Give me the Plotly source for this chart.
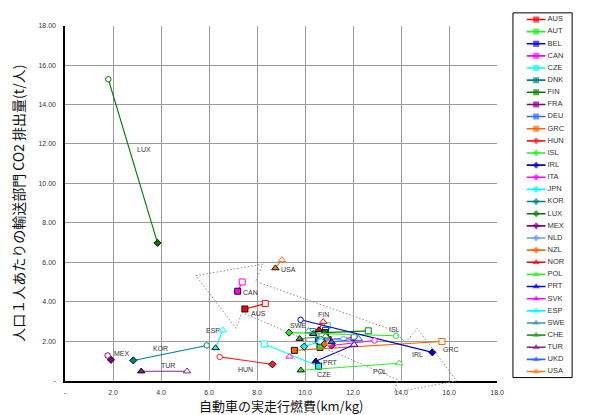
import plotly.graph_objects as go

# --- data -------------------------------------------------------------------
countries = ["AUS", "AUT", "BEL", "CAN", "CZE", "DNK", "FIN", "FRA", "DEU", "GRC",
             "HUN", "ISL", "IRL", "ITA", "JPN", "KOR", "LUX", "MEX", "NLD", "NZL",
             "NOR", "POL", "PRT", "SVK", "ESP", "SWE", "CHE", "TUR", "UKD", "USA"]

# fuel economy (km/kg) and transport CO2 per capita (t) – first point (filled marker)
fuel_a = [7.49, 10.62, 10.60, 7.19, 10.56, 10.85, 10.82, 10.96, 10.55, 9.55,
          8.64, 9.33, 15.30, 11.10, 9.96, 2.84, 3.85, 1.91, 10.92, 10.80,
          10.57, 9.82, 10.44, None, 6.27, 10.34, 9.77, 3.17, 11.10, 8.76]
co2_a = [3.63, 1.68, 2.03, 4.53, 0.73, 2.30, 2.43, 2.07, 2.05, 1.53,
         0.82, 2.43, 1.43, 1.78, 1.72, 1.02, 6.98, 1.05, 2.10, 1.85,
         2.57, 0.52, 0.98, None, 1.65, 2.37, 2.12, 0.47, 1.95, 5.70]

# second point (open marker)
fuel_b = [8.34, 10.92, 10.85, 7.38, 8.30, 10.30, 12.63, 12.04, 10.70, 15.70,
          6.44, 13.79, 9.81, 12.89, 10.64, 5.90, 1.80, 1.77, 11.60, 11.00,
          10.75, 13.92, 12.04, 9.35, 6.57, 10.14, 10.85, 5.08, 12.23, 9.03]
co2_b = [3.90, 2.78, 2.55, 5.00, 1.85, 2.48, 2.52, 2.18, 2.25, 1.98,
         1.20, 2.27, 3.08, 2.03, 1.98, 1.78, 15.28, 1.27, 2.10, 1.90,
         2.98, 0.88, 1.82, 1.22, 2.55, 2.52, 2.25, 0.47, 2.12, 6.12]

x_ticks = [0, 2, 4, 6, 8, 10, 12, 14, 16, 18]
x_tick_text = ["-", "2.0", "4.0", "6.0", "8.0", "10.0", "12.0", "14.0", "16.0", "18.0"]
y_ticks = [0, 2, 4, 6, 8, 10, 12, 14, 16, 18]
y_tick_text = ["-", "2.00", "4.00", "6.00", "8.00", "10.00", "12.00", "14.00", "16.00", "18.00"]

# hand-drawn dotted outline around the main cluster (data units)
outline_x = [5.45, 8.23, 7.94, 13.50, 14.20, 14.67, 16.31, 13.72, 13.85, 7.37, 7.12]
outline_y = [5.32, 5.90, 5.03, 2.62, 1.95, 2.65, -0.02, -0.60, 0.05, 3.45, 2.65]

# --- styles -----------------------------------------------------------------
colors = ["#FF0000", "#22EE22", "#0000FF", "#FF00FF", "#00FFFF", "#008080", "#008000", "#800080", "#3366FF", "#FF6600",
          "#FF2222", "#22EE22", "#0000CC", "#FF00FF", "#00FFFF", "#008080", "#007700", "#800080", "#6699FF", "#FF6600",
          "#FF0000", "#33EE33", "#0000FF", "#FF00FF", "#00FFFF", "#339999", "#339933", "#882288", "#3366FF", "#FF7722"]
sym_filled = ["square"] * 10 + ["diamond"] * 10 + ["triangle-up"] * 10
sym_open = ["square"] * 10 + ["circle"] * 10 + ["triangle-up"] * 10
sym_size = [6] * 10 + [5.5] * 10 + [6.5] * 10

label_pos = {
    "LUX": (3.27, 11.73), "MEX": (2.38, 1.38), "KOR": (3.98, 1.60), "TUR": (4.29, 0.75),
    "ESP": (6.16, 2.55), "HUN": (7.50, 0.57), "CAN": (7.73, 4.48), "AUS": (8.07, 3.38),
    "USA": (9.30, 5.63), "FIN": (10.78, 3.33), "SWE": (9.71, 2.77), "ISL": (13.74, 2.57),
    "GRC": (16.08, 1.58), "IRL": (14.67, 1.30), "PRT": (11.05, 0.93), "CZE": (10.77, 0.32),
    "POL": (13.13, 0.48),
}

W, H = 589, 415
plot_l, plot_r, plot_t, plot_b = 65, 503, 22, 383
leg_l, leg_r, leg_t, leg_b = 519, 579, 9, 380

x_dom = [plot_l / W, plot_r / W]
y_dom = [(H - plot_b) / H, (H - plot_t) / H]

fig = go.Figure()

# one trace per country: connecting line plus its two markers
for i, c in enumerate(countries):
    col = colors[i]
    fig.add_trace(go.Scatter(
        x=[fuel_a[i], fuel_b[i]], y=[co2_a[i], co2_b[i]],
        mode="lines+markers",
        line=dict(color=col, width=1.1),
        marker=dict(symbol=[sym_filled[i], sym_open[i]],
                    size=sym_size[i],
                    color=[col, "white"],
                    line=dict(color=["#111111", col], width=1)),
        xaxis="x", yaxis="y", showlegend=False, hoverinfo="skip", name=c,
    ))

# legend drawn on its own small axes
for i, c in enumerate(countries):
    col = colors[i]
    fig.add_trace(go.Scatter(
        x=[14, 23.5, 33], y=[i, i, i],
        mode="lines+markers",
        line=dict(color=col, width=1.6),
        marker=dict(symbol=sym_filled[i], size=[0, sym_size[i], 0], color=col,
                    line=dict(width=0)),
        xaxis="x2", yaxis="y2", showlegend=False, hoverinfo="skip",
    ))
fig.add_trace(go.Scatter(
    x=[35] * len(countries), y=list(range(len(countries))), text=countries,
    mode="text", textposition="middle right",
    textfont=dict(family="Liberation Sans, Arial", size=7.5, color="#333333"),
    xaxis="x2", yaxis="y2", showlegend=False, hoverinfo="skip",
))

# dotted outline: x in data units, y converted to paper so it can dip below the axis
def y_to_paper(v):
    return y_dom[0] + (v / 18.0) * (y_dom[1] - y_dom[0])

path = "M " + " L ".join(f"{x},{y_to_paper(y)}" for x, y in zip(outline_x, outline_y)) + " Z"
shapes = [
    dict(type="path", path=path, xref="x", yref="paper",
         line=dict(color="#8c8c8c", width=1, dash="1.5px,2px")),
    dict(type="rect", xref="x2 domain", yref="y2 domain", x0=0, x1=1, y0=0, y1=1,
         line=dict(color="#000000", width=1)),
]

annotations = []
for c, (lx, ly) in label_pos.items():
    annotations.append(dict(x=lx, y=ly, xref="x", yref="y", text=c, showarrow=False,
                            font=dict(family="Liberation Sans, Arial", size=7, color="#333333")))

annotations.append(dict(
    text="自動車の実走行燃費(km/kg)", x=0.5, xref="x domain", y=(H - 408) / H, yref="paper",
    showarrow=False, xanchor="center", yanchor="middle",
    font=dict(family="Noto Sans CJK JP", size=13, color="#111111")))
annotations.append(dict(
    text="人口１人あたりの輸送部門 CO2 排出量(t/人)", x=17 / W, xref="paper",
    y=(y_dom[0] + y_dom[1]) / 2, yref="paper", textangle=-90,
    showarrow=False, xanchor="center", yanchor="middle",
    font=dict(family="Noto Sans CJK JP", size=14, color="#111111")))

tick_font = dict(family="Liberation Sans, Arial", size=7, color="#333333")
fig.update_layout(
    width=W, height=H,
    margin=dict(l=0, r=0, t=0, b=0),
    paper_bgcolor="white", plot_bgcolor="white",
    showlegend=False,
    xaxis=dict(domain=x_dom, range=[0, 18], tickvals=x_ticks, ticktext=x_tick_text,
               showgrid=True, gridcolor="#9a9a9a", gridwidth=1, zeroline=False,
               showline=True, linecolor="#000000", linewidth=2, ticks="",
               tickfont=tick_font, ticklabelstandoff=4, fixedrange=True),
    yaxis=dict(domain=y_dom, range=[0, 18], tickvals=y_ticks, ticktext=y_tick_text,
               showgrid=True, gridcolor="#9a9a9a", gridwidth=1, zeroline=False,
               showline=True, linecolor="#000000", linewidth=1.5, ticks="",
               tickfont=tick_font, ticklabelstandoff=6, fixedrange=True),
    xaxis2=dict(domain=[leg_l / W, leg_r / W], range=[0, leg_r - leg_l], visible=False,
                fixedrange=True),
    yaxis2=dict(domain=[(H - leg_b) / H, (H - leg_t) / H],
                range=[(leg_b - 15.7) / 12.35, (leg_t - 15.7) / 12.35],
                visible=False, fixedrange=True),
    shapes=shapes,
    annotations=annotations,
)

fig.write_html("out.html")
